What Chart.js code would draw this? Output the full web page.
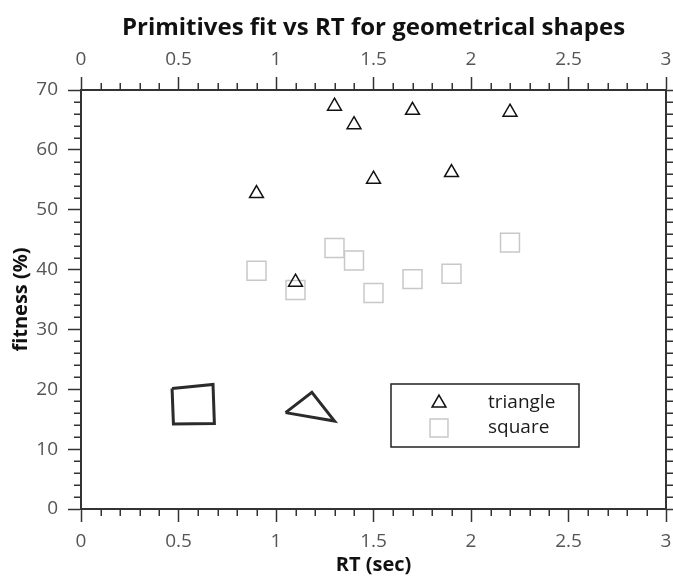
<!DOCTYPE html>
<html>
<head>
<meta charset="utf-8">
<title>Primitives fit vs RT</title>
<script src="https://cdn.jsdelivr.net/npm/chart.js@4/dist/chart.umd.min.js"></script>
<style>
  html, body { margin: 0; padding: 0; background: #fff; }
  #wrap { width: 673px; height: 579px; }
</style>
</head>
<body>
<div id="wrap"><canvas id="chart" width="673" height="579"></canvas></div>
<script>
// ── data ──
const rtValues     = [0.9, 1.1, 1.3, 1.4, 1.5, 1.7, 1.9, 2.2];
const triangleFit  = [52.7, 37.9, 67.3, 64.2, 55.1, 66.6, 56.2, 66.3];
const squareFit    = [39.8, 36.6, 43.6, 41.5, 36.1, 38.4, 39.3, 44.5];

// hand-drawn example shapes pasted into the plot (data units)
const sketchSquareX   = [0.467, 0.677, 0.684, 0.474, 0.467];
const sketchSquareY   = [20.15, 20.8, 14.3, 14.2, 20.15];
const sketchTriangleX = [1.049, 1.184, 1.300, 1.049];
const sketchTriangleY = [16.1, 19.5, 14.7, 16.1];

const xTicks = [0, 0.5, 1, 1.5, 2, 2.5, 3];
const yTicks = [0, 10, 20, 30, 40, 50, 60, 70];

const FONT = "'Open Sans', 'DejaVu Sans', sans-serif";
const AXIS = '#333';
const MAJOR = 13, MINOR = 7;

const pts = (xs, ys) => xs.map((x, i) => ({ x, y: ys[i] }));

// minor ticks every 0.1 / 2, pointing outwards on all four sides
const minorTicks = {
  id: 'minorTicks',
  afterDraw(chart) {
    const { ctx, chartArea: a, scales } = chart;
    ctx.save();
    ctx.strokeStyle = AXIS;
    ctx.lineWidth = 1.5;
    ctx.beginPath();
    for (let i = 0; i <= 30; i++) {
      if (i % 5 === 0) continue;
      const px = Math.round(scales.x.getPixelForValue(i / 10)) + 0.25;
      ctx.moveTo(px, a.bottom); ctx.lineTo(px, a.bottom + MINOR);
      ctx.moveTo(px, a.top);    ctx.lineTo(px, a.top - MINOR);
    }
    for (let v = 0; v <= 70; v += 2) {
      if (v % 10 === 0) continue;
      const py = Math.round(scales.y.getPixelForValue(v)) + 0.25;
      ctx.moveTo(a.left, py);  ctx.lineTo(a.left - MINOR, py);
      ctx.moveTo(a.right, py); ctx.lineTo(a.right + MINOR, py);
    }
    ctx.stroke();
    ctx.restore();
  }
};

// boxed legend inside the plot, lower right
const boxLegend = {
  id: 'boxLegend',
  afterDraw(chart) {
    const { ctx } = chart;
    const bx = 391, by = 384, bw = 188, bh = 63;
    ctx.save();
    ctx.fillStyle = '#fff';
    ctx.fillRect(bx, by, bw, bh);
    ctx.strokeStyle = '#222';
    ctx.lineWidth = 1.5;
    ctx.strokeRect(bx, by, bw, bh);

    const items = [chart.data.datasets[0], chart.data.datasets[1]];
    const rows = [403, 428];
    items.forEach((ds, i) => {
      ctx.fillStyle = 'rgba(0,0,0,0)';
      ctx.strokeStyle = ds.borderColor;
      ctx.lineWidth = ds.borderWidth;
      Chart.helpers.drawPoint(ctx, {
        pointStyle: ds.pointStyle,
        radius: i === 0 ? 8 : 12.7,
        borderWidth: ds.borderWidth,
      }, 439, rows[i]);
      ctx.fillStyle = '#1a1a1a';
      ctx.font = '19px ' + FONT;
      ctx.textBaseline = 'middle';
      ctx.textAlign = 'left';
      ctx.fillText(ds.label, 488, rows[i]);
    });
    ctx.restore();
  }
};

function axis(position, extra) {
  return Object.assign({
    type: 'linear',
    position,
    border: { display: true, color: AXIS, width: 2 },
    grid: { display: true, drawOnChartArea: false, drawTicks: true, tickLength: MAJOR, color: AXIS, tickWidth: 1.5 },
    ticks: { color: '#555', padding: 10, font: { family: FONT, size: 19 }, callback: v => String(v) },
  }, extra);
}

// fixed box sizes so the plot frame lands where the reference has it
const fixH = h => s => { s.height = h; s.paddingLeft = 0; s.paddingRight = 0; };
const fixW = w => s => { s.width = w; s.paddingTop = 0; s.paddingBottom = 0; };

const horiz = (position, pad, extra) => axis(position, Object.assign({
  min: 0, max: 3,
  afterBuildTicks: s => { s.ticks = xTicks.map(v => ({ value: v })); },
  ticks: { color: '#555', padding: pad, font: { family: FONT, size: 19 }, callback: v => String(v) },
}, extra));
const vert = (position, extra) => axis(position, Object.assign({
  min: 0, max: 70,
  afterBuildTicks: s => { s.ticks = yTicks.map(v => ({ value: v })); },
}, extra));

new Chart(document.getElementById('chart'), {
  type: 'scatter',
  data: {
    datasets: [
      {
        label: 'triangle',
        data: pts(rtValues, triangleFit),
        pointStyle: 'triangle',
        pointRadius: 8,
        borderColor: '#111',
        backgroundColor: 'rgba(0,0,0,0)',
        borderWidth: 1.5,
      },
      {
        label: 'square',
        data: pts(rtValues, squareFit),
        pointStyle: 'rect',
        pointRadius: 13.4,
        borderColor: '#c8c8c8',
        backgroundColor: 'rgba(0,0,0,0)',
        borderWidth: 1.5,
      },
      {
        label: 'sketch square',
        data: pts(sketchSquareX, sketchSquareY),
        showLine: true, pointRadius: 0,
        borderColor: '#2b2b2b', borderWidth: 3,
      },
      {
        label: 'sketch triangle',
        data: pts(sketchTriangleX, sketchTriangleY),
        showLine: true, pointRadius: 0,
        borderColor: '#2b2b2b', borderWidth: 3,
      },
    ],
  },
  options: {
    responsive: false,
    animation: false,
    devicePixelRatio: 1,
    layout: { padding: 0, autoPadding: false },
    plugins: {
      legend: { display: false },
      tooltip: { enabled: false },
      title: { display: false },
    },
    scales: {
      x: horiz('bottom', 8, {
        title: { display: true, text: 'RT (sec)', color: '#111', padding: { top: 0, bottom: 2 },
                 font: { family: FONT, size: 20, weight: 'bold' } },
        afterFit: fixH(70),
      }),
      x2: horiz('top', 6, {
        title: { display: true, text: 'Primitives fit vs RT for geometrical shapes', color: '#111',
                 padding: { top: 14, bottom: 0 }, font: { family: FONT, size: 24, weight: 'bold' } },
        afterFit: fixH(90),
      }),
      y: vert('left', {
        title: { display: true, text: 'fitness (%)', color: '#111', padding: { top: 9, bottom: 0 },
                 font: { family: FONT, size: 20, weight: 'bold' } },
        afterFit: fixW(81),
      }),
      y2: vert('right', {
        ticks: { display: false },
        afterFit: fixW(7),
      }),
    },
  },
  plugins: [minorTicks, boxLegend],
});
</script>
</body>
</html>
